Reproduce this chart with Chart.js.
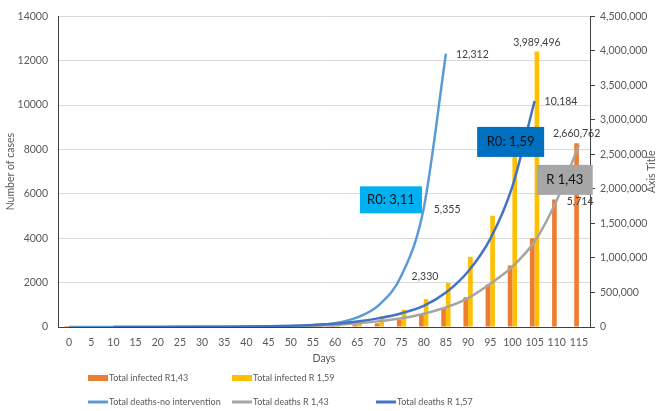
<!DOCTYPE html>
<html>
<head>
<meta charset="utf-8">
<script src="https://cdn.jsdelivr.net/npm/chart.js@4.4.1/dist/chart.umd.min.js"></script>
<style>
  body { margin: 0; background: #fff; }
  #wrap { width: 662px; height: 411px; }
</style>
</head>
<body>
<div id="wrap"><canvas id="chart" width="662" height="411"></canvas></div>
<script>
// -------------------------
// DATA
// -------------------------
const days = [0, 5, 10, 15, 20, 25, 30, 35, 40, 45, 50, 55, 60, 65, 70, 75, 80, 85, 90, 95, 100, 105, 110, 115];

// bars, right axis
const infectedR143 = [100, 200, 300, 450, 700, 1100, 1700, 2600, 4000, 6000, 9000, 14000,
  22000, 35000, 56000, 105000, 190000, 280000, 430000, 616000, 889000, 1284000, 1848000, 2660762];
const infectedR159 = [200, 330, 530, 850, 1400, 2200, 3500, 5600, 9000, 14500, 23000, 37000,
  60000, 97000, 155000, 250000, 405000, 639000, 1016000, 1612000, 2540000, 3989496, null, null];

// lines, left axis
const deathsNoIntervention = [0, 0, 1, 1, 1, 2, 3, 5, 8, 16, 36, 80,
  170, 430, 1010, 2330, 5355, 12312, null, null, null, null, null, null];
const deathsR143 = [null, null, 1, 1, 2, 4, 6, 9, 14, 22, 35, 55,
  90, 165, 265, 390, 600, 880, 1300, 1950, 2720, 3850, 5714, 8200];
const deathsR157 = [null, null, 1, 2, 4, 6, 10, 15, 24, 38, 60, 95,
  150, 250, 400, 620, 950, 1550, 2500, 3970, 6340, 10184, null, null];

const leftTicks = { min: 0, max: 14000, step: 2000 };
const rightTicks = { min: 0, max: 4500000, step: 500000 };
const rightTitle = 'Axis Title';

// which points carry a value label: [dataset index, day, placement]
const valueLabels = [
  [2, 75, 'right'], [2, 80, 'right'], [2, 85, 'right'],
  [4, 105, 'right'], [3, 110, 'right'],
  [1, 105, 'top'], [0, 115, 'top']
];

// callout boxes: text, day, left-axis value at the box centre
const callouts = [
  { text: 'R0: 3,11', day: 72.6, value: 5730, w: 62, h: 27, color: '#00B0F0' },
  { text: 'R0: 1,59', day: 99.6, value: 8340, w: 67, h: 30, color: '#0070C0' },
  { text: 'R 1,43', day: 111.8, value: 6630, w: 56, h: 30, color: '#A6A6A6' }
];

// legend slots: [dataset index, column, row]
const legendSlots = [[0, 0, 0], [1, 1, 0], [2, 0, 1], [3, 1, 1], [4, 2, 1]];

const FONT = 'Lato';
const TEXT = '#595959';

// -------------------------
// PLUGINS
// -------------------------
const labelPlugin = {
  id: 'valueLabels',
  afterDatasetsDraw(chart) {
    const ctx = chart.ctx;
    ctx.save();
    ctx.font = '10.5px ' + FONT;
    ctx.fillStyle = '#404040';
    valueLabels.forEach(([di, day, place]) => {
      const i = days.indexOf(day);
      const el = chart.getDatasetMeta(di).data[i];
      const v = chart.data.datasets[di].data[i];
      const txt = v.toLocaleString('en-US');
      if (place === 'top') {
        ctx.textAlign = 'center';
        ctx.textBaseline = 'bottom';
        ctx.fillText(txt, el.x, el.y - 4);
      } else {
        ctx.textAlign = 'left';
        ctx.textBaseline = 'middle';
        ctx.fillText(txt, el.x + 10, el.y + 1);
      }
    });

    // callout boxes
    const xs = chart.scales.x, ys = chart.scales.y;
    callouts.forEach(c => {
      const cx = xs.getPixelForValue(c.day / 5);
      const cy = ys.getPixelForValue(c.value);
      ctx.fillStyle = c.color;
      ctx.fillRect(cx - c.w / 2, cy - c.h / 2, c.w, c.h);
      ctx.fillStyle = '#111';
      ctx.font = '13px ' + FONT;
      ctx.textAlign = 'center';
      ctx.textBaseline = 'middle';
      ctx.fillText(c.text, cx, cy);
    });
    ctx.restore();
  }
};

const legendPlugin = {
  id: 'bottomLegend',
  afterDraw(chart) {
    const ctx = chart.ctx;
    ctx.save();

    // right axis title, reading bottom to top
    const area = chart.chartArea;
    ctx.font = '10.5px ' + FONT;
    ctx.fillStyle = TEXT;
    ctx.textAlign = 'center';
    ctx.textBaseline = 'middle';
    ctx.translate(652, (area.top + area.bottom) / 2);
    ctx.rotate(-Math.PI / 2);
    ctx.fillText(rightTitle, 0, 0);
    ctx.setTransform(1, 0, 0, 1, 0, 0);

    ctx.font = '9px ' + FONT;
    ctx.textAlign = 'left';
    legendSlots.forEach(([di, col, row]) => {
      const ds = chart.data.datasets[di];
      const x = 88 + col * 144;
      const y = 378 + row * 24;
      if (ds.type === 'line') {
        ctx.strokeStyle = ds.borderColor;
        ctx.lineWidth = 3;
        ctx.beginPath();
        ctx.moveTo(x, y);
        ctx.lineTo(x + 20, y);
        ctx.stroke();
      } else {
        ctx.fillStyle = ds.backgroundColor;
        ctx.fillRect(x, y - 3, 20, 6);
      }
      ctx.fillStyle = TEXT;
      ctx.fillText(ds.label, x + 21, y);
    });
    ctx.restore();
  }
};

// -------------------------
// CHART
// -------------------------
const ctx = document.getElementById('chart').getContext('2d');

new Chart(ctx, {
  type: 'bar',
  data: {
    labels: days,
    datasets: [
      { label: 'Total infected R1,43', data: infectedR143, backgroundColor: '#ED7D31',
        yAxisID: 'y1', order: 5, categoryPercentage: 0.42, barPercentage: 1.0 },
      { label: 'Total infected R 1,59', data: infectedR159, backgroundColor: '#FFC000',
        yAxisID: 'y1', order: 5, categoryPercentage: 0.42, barPercentage: 1.0 },
      { type: 'line', label: 'Total deaths-no intervention', data: deathsNoIntervention,
        borderColor: '#5B9BD5', yAxisID: 'y', order: 3 },
      { type: 'line', label: 'Total deaths R 1,43', data: deathsR143,
        borderColor: '#A5A5A5', yAxisID: 'y', order: 2 },
      { type: 'line', label: 'Total deaths R 1,57', data: deathsR157,
        borderColor: '#4472C4', yAxisID: 'y', order: 1 }
    ]
  },
  options: {
    responsive: false,
    animation: false,
    devicePixelRatio: 1,
    layout: { padding: { top: 8, bottom: 46, left: 0, right: 0 } },
    elements: {
      line: { borderWidth: 2.5, tension: 0.4, cubicInterpolationMode: 'monotone', fill: false },
      point: { radius: 0 }
    },
    plugins: {
      legend: { display: false },
      tooltip: { enabled: false }
    },
    scales: {
      x: {
        grid: { display: false, drawTicks: false },
        border: { display: true, color: '#404040', width: 1 },
        ticks: { color: TEXT, font: { family: FONT, size: 10.5 }, padding: 9, autoSkip: false, maxRotation: 0 },
        title: { display: true, text: 'Days', color: TEXT, font: { family: FONT, size: 10.5 }, padding: { top: 0, bottom: 0 } },
        afterFit: s => { s.height = 38; }
      },
      y: {
        position: 'left',
        min: leftTicks.min, max: leftTicks.max,
        ticks: { stepSize: leftTicks.step, callback: v => String(v), color: TEXT,
          font: { family: FONT, size: 10.5 }, padding: 10 },
        grid: { color: '#D9D9D9', drawTicks: false },
        border: { display: true, color: '#404040' },
        title: { display: true, text: 'Number of cases', color: TEXT,
          font: { family: FONT, size: 10.5 }, padding: { top: 4, bottom: 0 } },
        afterFit: s => { s.width = 58; }
      },
      y1: {
        position: 'right',
        min: rightTicks.min, max: rightTicks.max,
        ticks: { stepSize: rightTicks.step, callback: v => v.toLocaleString('en-US'), color: TEXT,
          font: { family: FONT, size: 10.5 }, padding: 5 },
        grid: { drawOnChartArea: false, tickLength: 5, color: '#404040' },
        border: { display: true, color: '#404040' },
        afterFit: s => { s.width = 72; }
      }
    }
  },
  plugins: [labelPlugin, legendPlugin]
});
</script>
</body>
</html>
